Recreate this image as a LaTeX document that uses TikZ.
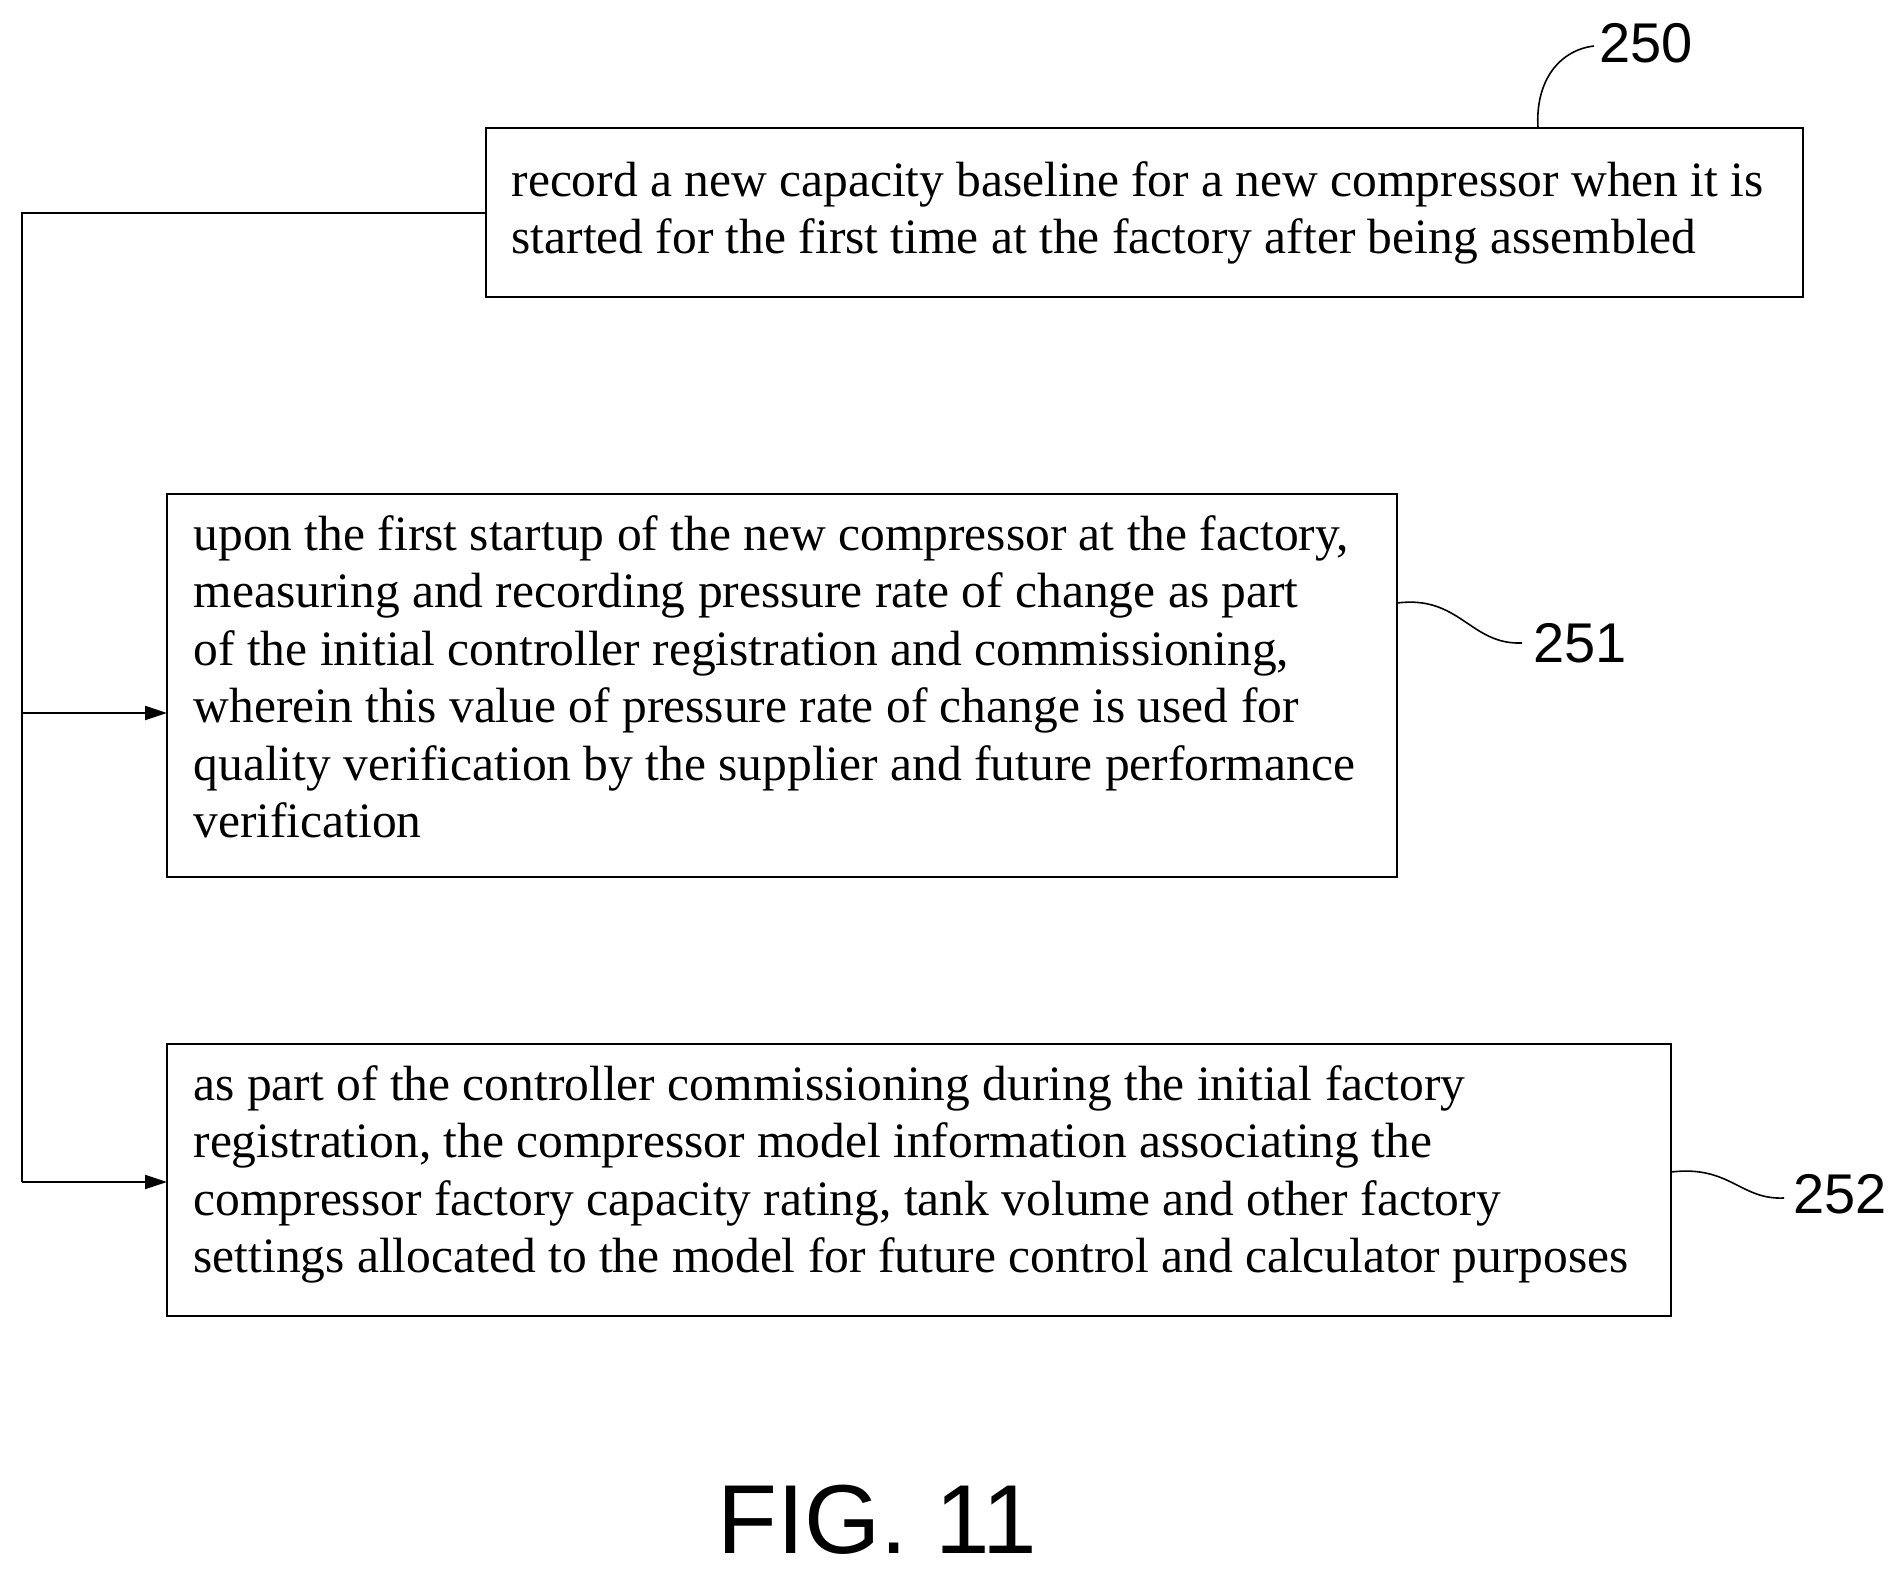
\documentclass[tikz,border=0pt]{standalone}
\usepackage{fontspec}
\setmainfont{Liberation Serif}
\newfontfamily\lab{Liberation Sans}
\usetikzlibrary{arrows.meta}
\begin{document}
\begin{tikzpicture}[x=1pt,y=-1pt,
 box/.style={draw,line width=2pt,anchor=north west,inner sep=0pt},
 txt/.style={anchor=north west,align=left,font=\fontsize{49.5}{57.5}\selectfont},
 lbl/.style={font=\lab\fontsize{56}{60}\selectfont},
 conn/.style={line width=2pt,-{Triangle[length=22pt,width=14pt]}},
 lead/.style={line width=1.6pt}]
\useasboundingbox (0,0) rectangle (1901,1574);
\draw[box] (486,128) rectangle (1803,297);
\node[txt] (t250) at (508,158) {record a new capacity baseline for a new compressor when it is\\started for the first time at the factory after being assembled};
\draw[box] (167,494) rectangle (1397,877);
\node[txt] (t251) at (190,512) {upon the first startup of the new compressor at the factory,\\measuring and recording pressure rate of change as part\\of the initial controller registration and commissioning,\\wherein this value of pressure rate of change is used for\\quality verification by the supplier and future performance\\verification};
\draw[box] (167,1044) rectangle (1671,1316);
\node[txt] (t252) at (190,1062) {as part of the controller commissioning during the initial factory\\registration, the compressor model information associating the\\compressor factory capacity rating, tank volume and other factory\\settings allocated to the model for future control and calculator purposes};
\coordinate (s) at (486,213);
\coordinate (c1) at (22,213);
\coordinate (a1) at (167,713);
\coordinate (a2) at (167,1182);
\draw[line width=2pt] (s) -- (c1) -- (22,1182);
\draw[conn] (22,713) -- (a1);
\draw[conn] (22,1182) -- (a2);
\node[lbl,anchor=west] (l250) at (1596,43) {250};
\node[lbl,anchor=west] (l251) at (1530,643) {251};
\node[lbl,anchor=west] (l252) at (1790,1194) {252};
\draw[lead] (1538,128) .. controls (1535,80) and (1560,50) .. (1594,46);
\draw[lead] (1397,603) .. controls (1460,595) and (1470,645) .. (1522,643);
\draw[lead] (1671,1172) .. controls (1730,1165) and (1740,1200) .. (1784,1198);
\node[font=\lab\fontsize{98}{100}\selectfont] (fig) at (877,1520) {FIG. 11};
\end{tikzpicture}
\end{document}
